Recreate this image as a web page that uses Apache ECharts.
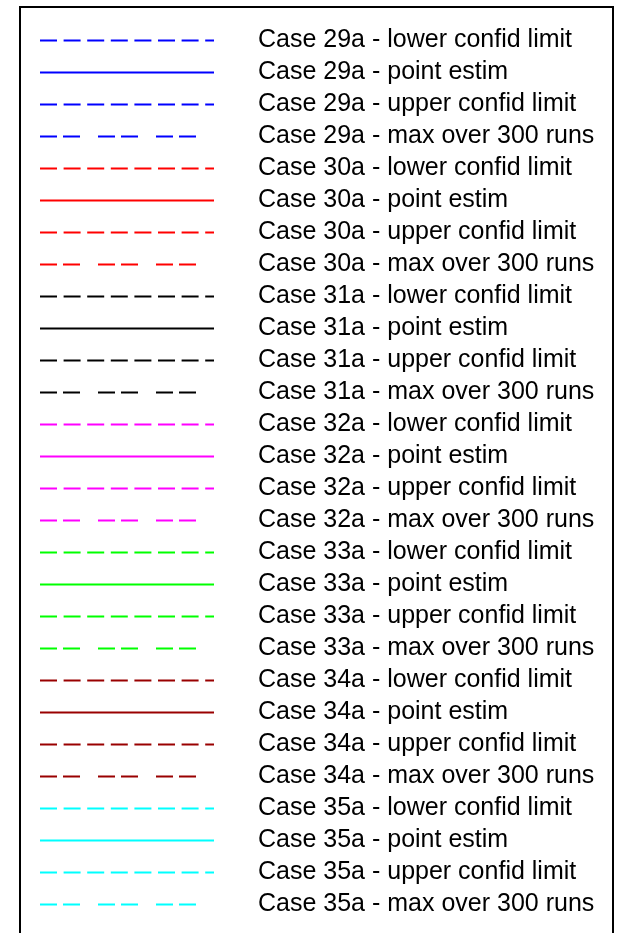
<!DOCTYPE html>
<html>
<head>
<meta charset="utf-8">
<script src="https://cdn.jsdelivr.net/npm/echarts@6/dist/echarts.min.js"></script>
<style>
  html, body { margin: 0; padding: 0; background: #fff; }
  #chart { width: 619px; height: 933px; }
</style>
</head>
<body>
<div id="chart"></div>
<script>
// Cases shown in the key, in order
const caseNames = ['Case 29a', 'Case 30a', 'Case 31a', 'Case 32a', 'Case 33a', 'Case 34a', 'Case 35a'];
// Statistic drawn for each case
const statNames = ['lower confid limit', 'point estim', 'upper confid limit', 'max over 300 runs'];

// One colour per case
const casePalette = ['#0000ff', '#ff0000', '#000000', '#ff00ff', '#00ff00', '#990000', '#00ffff'];
// One line pattern per statistic
const statDash = [[17, 6.6], 'solid', [17, 6.6], [17, 6, 17, 18]];

const series = [];
caseNames.forEach((c, ci) => {
  statNames.forEach((s, si) => {
    series.push({
      name: c + ' - ' + s,
      type: 'line',
      data: [],
      symbol: 'none',
      color: casePalette[ci],
      lineStyle: { color: casePalette[ci], width: 2, type: statDash[si], cap: 'butt' }
    });
  });
});

const chart = echarts.init(document.getElementById('chart'), null, { renderer: 'canvas' });
chart.setOption({
  animation: false,
  backgroundColor: '#ffffff',
  grid: { show: false, left: 0, right: 0, top: 0, bottom: 0 },
  xAxis: { type: 'value', show: false },
  yAxis: { type: 'value', show: false },
  graphic: [{
    type: 'rect',
    shape: { x: 20, y: 7, width: 593, height: 1000 },
    style: { fill: 'none', stroke: '#000', lineWidth: 2 },
    silent: true
  }],
  legend: {
    orient: 'vertical',
    left: 39,
    top: 28,
    padding: 0,
    itemWidth: 174,
    itemHeight: 25,
    itemGap: 7,
    selectedMode: false,
    itemStyle: { opacity: 0 },
    textStyle: {
      fontFamily: '"Liberation Sans", Arial, sans-serif',
      fontSize: 25,
      lineHeight: 25,
      color: '#000',
      padding: [0, 0, 0, 39]
    },
    data: series.map(s => s.name)
  },
  series: series
});
</script>
</body>
</html>
